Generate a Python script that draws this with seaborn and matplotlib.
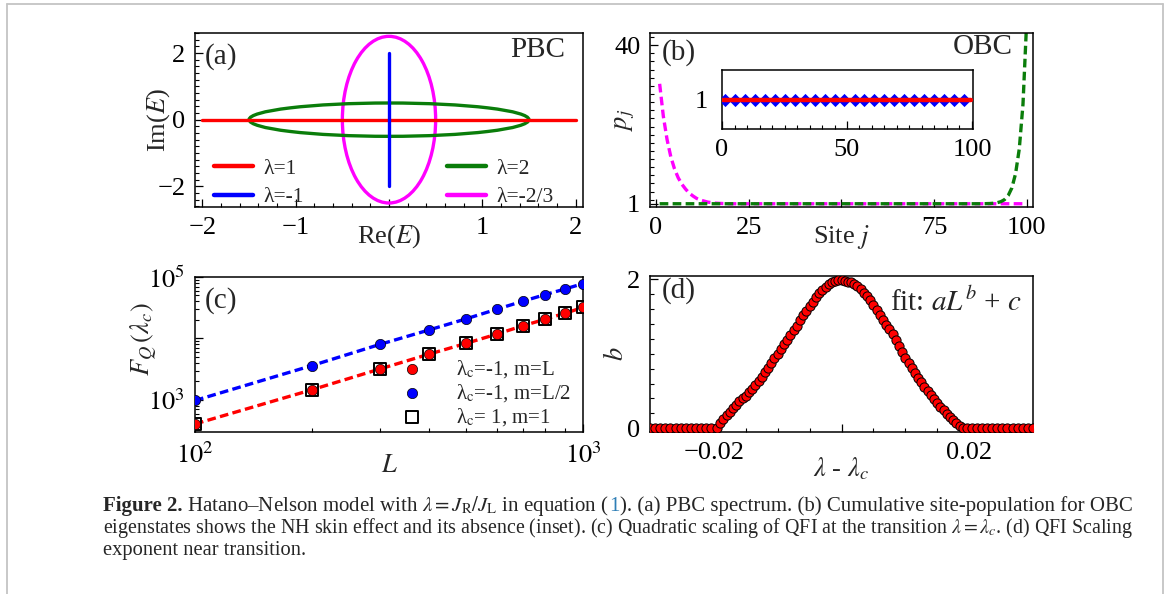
import matplotlib
matplotlib.use("Agg")
import matplotlib.pyplot as plt
import seaborn as sns
import numpy as np
import pandas as pd
from matplotlib.patches import Ellipse
from matplotlib.lines import Line2D
from matplotlib.ticker import MultipleLocator, FixedLocator, FixedFormatter, NullFormatter

# ---------------- data ----------------
# (a) PBC spectrum
spec_labels = ["λ=1", "λ=-1", "λ=2", "λ=-2/3"]
spec_colors = ["#ff0000", "#0000ff", "#0a7d0a", "#ff00ff"]
l1_re = [-2.0, 2.0]
l1_im = [0.0, 0.0]
lm1_re = [0.0, 0.0]
lm1_im = [-2.0, 2.0]
ell_center_re = [0.0, 0.0]      # λ=2, λ=-2/3
ell_center_im = [0.0, 0.0]
ell_semi_re = [1.5, 0.5]
ell_semi_im = [0.5, 2.5]

# (b) cumulative site population (OBC)
site_mag = [1, 2, 3, 4, 5, 6, 7, 8, 9, 10, 11, 12, 14, 16, 18, 20, 100]
pop_mag = [30.5, 22.5, 16.8, 12.6, 9.6, 7.4, 5.8, 4.6, 3.6, 2.9, 2.3, 1.9, 1.4, 1.15, 1.05, 1.0, 1.0]
site_green = [1, 88, 90, 91, 92, 93, 94, 95, 96, 97, 98, 99, 100]
pop_green = [1.0, 1.0, 1.05, 1.12, 1.25, 1.5, 2.0, 3.0, 4.9, 8.4, 14.5, 25.5, 46.0]
inset_site_blue = [1, 5, 9, 13, 17, 21, 25, 29, 33, 37, 41, 45, 49, 53, 57, 61, 65,
                   69, 73, 77, 81, 85, 89, 93, 97]
inset_pop_blue = [1.0] * 25
inset_site_red = [0.5, 99.5]
inset_pop_red = [1.0, 1.0]
inset_site_black = [0, 100]
inset_pop_black = [1.0, 1.0]

# (c) QFI scaling
L_vals = [100, 200, 300, 400, 500, 600, 700, 800, 900, 1000]
fq_mL = [405, 1459, 3190, 5520, 8320, 11780, 16070, 20600, 25800, 31900]
fq_mhalf = [977, 3610, 8020, 13680, 20860, 29930, 40380, 51800, 63950, 78000]
fq_lc1 = [405, 1459, 3190, 5520, 8320, 11780, 16070, 20600, 25800, 31900]
c_labels = ["λ$_{\\rm c}$=-1, m=L", "λ$_{\\rm c}$=-1, m=L/2", "λ$_{\\rm c}$= 1, m=1"]

# (d) scaling exponent b
d_x = [-0.0300, -0.0292, -0.0284, -0.0276, -0.0268, -0.0260, -0.0252, -0.0244, -0.0236,
       -0.0228, -0.0220, -0.0212, -0.0204,
       -0.0195, -0.0190, -0.0185, -0.0180, -0.0175, -0.0170, -0.0165, -0.0160, -0.0155,
       -0.0150, -0.0145, -0.0140, -0.0135, -0.0130, -0.0125, -0.0120, -0.0115, -0.0110,
       -0.0105, -0.0100, -0.0095, -0.0090, -0.0085, -0.0080, -0.0075, -0.0070, -0.0065,
       -0.0060, -0.0055, -0.0050, -0.0045, -0.0040, -0.0035, -0.0030, -0.0025, -0.0020,
       -0.0015, -0.0010, -0.0005, 0.0000, 0.0005, 0.0010, 0.0015, 0.0020, 0.0025, 0.0030,
       0.0035, 0.0040, 0.0045, 0.0050, 0.0055, 0.0060, 0.0065, 0.0070, 0.0075, 0.0080,
       0.0085, 0.0090, 0.0095, 0.0100, 0.0105, 0.0110, 0.0115, 0.0120, 0.0125, 0.0130,
       0.0135, 0.0140, 0.0145, 0.0150, 0.0155, 0.0160, 0.0165, 0.0170, 0.0175, 0.0180,
       0.0185, 0.0190,
       0.0196, 0.0204, 0.0212, 0.0220, 0.0228, 0.0236, 0.0244, 0.0252, 0.0260, 0.0268,
       0.0276, 0.0284, 0.0292, 0.0300]
d_b = [0, 0, 0, 0, 0, 0, 0, 0, 0, 0, 0, 0, 0,
       0.01, 0.07, 0.13, 0.18, 0.22, 0.27, 0.31, 0.36, 0.40,
       0.44, 0.49, 0.53, 0.58, 0.63, 0.69, 0.75, 0.81, 0.88,
       0.94, 1.00, 1.06, 1.13, 1.19, 1.25, 1.32, 1.38, 1.45,
       1.52, 1.58, 1.64, 1.70, 1.76, 1.81, 1.86, 1.90, 1.94,
       1.96, 1.98, 1.99, 1.99, 1.98, 1.97, 1.96, 1.94, 1.91, 1.87,
       1.82, 1.78, 1.72, 1.65, 1.59, 1.52, 1.46, 1.39, 1.33, 1.26,
       1.18, 1.10, 1.02, 0.95, 0.88, 0.81, 0.74, 0.68, 0.62, 0.56,
       0.50, 0.45, 0.39, 0.34, 0.29, 0.24, 0.19, 0.15, 0.11, 0.07,
       0.03, 0.00,
       0, 0, 0, 0, 0, 0, 0, 0, 0, 0, 0, 0, 0, 0]

# ---------------- style ----------------
sns.set_theme(style="white")
plt.rcParams["font.family"] = ["Liberation Serif", "DejaVu Serif"]
plt.rcParams["mathtext.fontset"] = "stix"
plt.rcParams["axes.unicode_minus"] = True

W, H = 1167, 594
fig = plt.figure(figsize=(W / 100, H / 100), dpi=100)
fig.patch.set_facecolor("white")

TS = 19
PS = 21


def px_axes(l, t, r, b):
    return fig.add_axes([l / W, 1 - b / H, (r - l) / W, (b - t) / H])


def style(ax, ts=TS):
    ax.set_facecolor("white")
    for s in ax.spines.values():
        s.set_visible(True)
        s.set_color("black")
        s.set_linewidth(1.1)
    ax.tick_params(which="both", direction="in", top=False, right=False,
                   left=True, bottom=True, colors="black", labelsize=ts)
    ax.tick_params(which="major", length=6, width=0.9, pad=7)
    ax.tick_params(which="minor", length=3, width=0.8)
    ax.grid(False)


DASH = (0, (2.6, 1.3))

# ---------------- (a) ----------------
axa = px_axes(195, 33, 583, 207)
style(axa)
for cr, ci, sr, si, col, z in zip(ell_center_re[::-1], ell_center_im[::-1], ell_semi_re[::-1],
                                  ell_semi_im[::-1], spec_colors[2:][::-1], [2, 2.1]):
    axa.add_patch(Ellipse((cr, ci), 2 * sr, 2 * si, fill=False, edgecolor=col, lw=2.4, zorder=z))
sns.lineplot(x=l1_re, y=l1_im, ax=axa, color=spec_colors[0], lw=2.4, estimator=None, sort=False, zorder=3)
sns.lineplot(x=lm1_re, y=lm1_im, ax=axa, color=spec_colors[1], lw=2.4, estimator=None, sort=False, zorder=3.1)
axa.set_xlim(-2.08, 2.08)
axa.set_ylim(-2.62, 2.6)
axa.xaxis.set_major_locator(FixedLocator([-2, -1, 0, 1, 2]))
axa.xaxis.set_major_formatter(FixedFormatter(["\u22122", "\u22121", "", "1", "2"]))
axa.xaxis.set_minor_locator(MultipleLocator(0.2))
axa.yaxis.set_major_locator(FixedLocator([-2, 0, 2]))
axa.yaxis.set_major_formatter(FixedFormatter(["\u22122", "0", "2"]))
axa.yaxis.set_minor_locator(MultipleLocator(0.2))
axa.set_xlabel("Re($E$)", fontsize=TS)
axa.xaxis.set_label_coords(0.5, -0.09)
axa.set_ylabel("Im($E$)", fontsize=TS)
axa.yaxis.set_label_coords(-0.06, 0.5)
axa.text(0.026, 0.862, "(a)", transform=axa.transAxes, fontsize=PS, va="center", ha="left")
axa.text(0.954, 0.90, "PBC", transform=axa.transAxes, fontsize=PS, va="center", ha="right")
hl = [Line2D([], [], color=c, lw=3.2) for c in spec_colors]
leg1 = axa.legend(hl[:2], spec_labels[:2], loc="center left", bbox_to_anchor=(0.049, 0.138),
                  frameon=False, fontsize=15.5, handlelength=1.8, handletextpad=0.5,
                  labelspacing=0.4, borderpad=0, borderaxespad=0)
axa.add_artist(leg1)
axa.legend(hl[2:], spec_labels[2:], loc="center left", bbox_to_anchor=(0.649, 0.138),
           frameon=False, fontsize=15.5, handlelength=1.8, handletextpad=0.5,
           labelspacing=0.4, borderpad=0, borderaxespad=0)

# ---------------- (b) ----------------
axb = px_axes(650, 33, 1033, 207)
style(axb)
sns.lineplot(x=site_mag, y=pop_mag, ax=axb, color=spec_colors[3], lw=2.4, linestyle=DASH,
             estimator=None, sort=False)
sns.lineplot(x=site_green, y=pop_green, ax=axb, color=spec_colors[2], lw=2.4, linestyle=DASH,
             estimator=None, sort=False)
axb.set_xlim(-1.6, 101.7)
axb.set_ylim(0.2, 43)
axb.xaxis.set_major_locator(FixedLocator([0, 25, 50, 75, 100]))
axb.xaxis.set_major_formatter(FixedFormatter(["0", "25", "", "75", "100"]))
axb.yaxis.set_major_locator(FixedLocator([1, 40]))
axb.yaxis.set_major_formatter(FixedFormatter(["1", "40"]))
axb.yaxis.set_minor_locator(MultipleLocator(2))
axb.set_xlabel("Site $j$", fontsize=TS)
axb.xaxis.set_label_coords(0.5, -0.09)
axb.set_ylabel("$p_j$", fontsize=TS)
axb.yaxis.set_label_coords(-0.035, 0.5)
axb.text(0.031, 0.89, "(b)", transform=axb.transAxes, fontsize=PS, va="center", ha="left")
axb.text(0.948, 0.92, "OBC", transform=axb.transAxes, fontsize=PS, va="center", ha="right")

# inset
axi = px_axes(722, 70, 973, 129)
style(axi)
sns.lineplot(x=inset_site_black, y=inset_pop_black, ax=axi, color="black", lw=0.9,
             estimator=None, sort=False, zorder=2)
sns.scatterplot(x=inset_site_blue, y=inset_pop_blue, ax=axi, color="#0000ff", marker="D",
                s=45, edgecolor="#0000ff", linewidth=0, zorder=3)
sns.lineplot(x=inset_site_red, y=inset_pop_red, ax=axi, color="#ff0000", lw=3.2,
             estimator=None, sort=False, zorder=4)
axi.set_xlim(0, 100.4)
axi.set_ylim(0.5, 1.5)
axi.xaxis.set_major_locator(FixedLocator([0, 50, 100]))
axi.xaxis.set_minor_locator(MultipleLocator(5))
axi.yaxis.set_major_locator(FixedLocator([1]))
axi.tick_params(axis="y", which="major", length=0, pad=10)
axi.set_xlabel("")
axi.set_ylabel("")

# ---------------- (c) ----------------
axc = px_axes(195, 277, 583, 432)
style(axc)
axc.set_xscale("log")
axc.set_yscale("log")
sns.lineplot(x=L_vals, y=fq_mhalf, ax=axc, color="#0000ff", lw=2.4, linestyle=DASH,
             estimator=None, sort=False, zorder=2)
sns.lineplot(x=L_vals, y=fq_mL, ax=axc, color="#ff0000", lw=2.4, linestyle=DASH,
             estimator=None, sort=False, zorder=2)
sns.scatterplot(x=L_vals, y=fq_lc1, ax=axc, marker="s", s=85, color="white",
                edgecolor="black", linewidth=1.4, zorder=3, label=c_labels[2])
sns.scatterplot(x=L_vals, y=fq_mL, ax=axc, marker="o", s=55, color="#ff0000",
                edgecolor="black", linewidth=0.5, zorder=4, label=c_labels[0])
sns.scatterplot(x=L_vals, y=fq_mhalf, ax=axc, marker="o", s=55, color="#0000ff",
                edgecolor="black", linewidth=0.5, zorder=4, label=c_labels[1])
axc.set_xlim(100, 1000)
axc.set_ylim(300, 1e5)
axc.xaxis.set_major_locator(FixedLocator([100, 1000]))
axc.xaxis.set_major_formatter(FixedFormatter(["$10^2$", "$10^3$"]))
axc.xaxis.set_minor_locator(FixedLocator([200, 300, 400, 500, 600, 700, 800, 900]))
axc.xaxis.set_minor_formatter(NullFormatter())
axc.yaxis.set_major_locator(FixedLocator([1e3, 1e4, 1e5]))
axc.yaxis.set_major_formatter(FixedFormatter(["$10^3$", "", "$10^5$"]))
axc.yaxis.set_minor_locator(FixedLocator([400, 500, 600, 700, 800, 900, 2000, 3000, 4000, 5000,
                                          6000, 7000, 8000, 9000, 20000, 30000, 40000, 50000,
                                          60000, 70000, 80000, 90000]))
axc.yaxis.set_minor_formatter(NullFormatter())
axc.set_xlabel("$L$", fontsize=TS)
axc.xaxis.set_label_coords(0.5, -0.15)
axc.set_ylabel("$F_Q\\,(\\lambda_c)$", fontsize=TS)
axc.yaxis.set_label_coords(-0.09, 0.6)
axc.text(0.026, 0.85, "(c)", transform=axc.transAxes, fontsize=PS, va="center", ha="left")
h, l = axc.get_legend_handles_labels()
order = [l.index(c_labels[0]), l.index(c_labels[1]), l.index(c_labels[2])]
axc.legend([h[i] for i in order], [l[i] for i in order], loc="center left",
           bbox_to_anchor=(0.532, 0.25), frameon=False, fontsize=15, handlelength=1.0,
           handletextpad=1.6, labelspacing=0.1, borderpad=0, borderaxespad=0)

# ---------------- (d) ----------------
axd = px_axes(650, 276, 1033, 432)
style(axd)
sns.scatterplot(x=d_x, y=d_b, ax=axd, marker="o", s=44, color="#ff0000",
                edgecolor="black", linewidth=0.7, zorder=3)
axd.set_xlim(-0.030, 0.030)
axd.set_ylim(-0.05, 2.045)
axd.xaxis.set_major_locator(FixedLocator([-0.02, 0, 0.02]))
axd.xaxis.set_major_formatter(FixedFormatter(["\u22120.02", "", "0.02"]))
axd.xaxis.set_minor_locator(MultipleLocator(0.005))
axd.yaxis.set_major_locator(FixedLocator([0, 2]))
axd.yaxis.set_major_formatter(FixedFormatter(["0", "2"]))
axd.yaxis.set_minor_locator(MultipleLocator(0.2))
axd.set_xlabel("$\\lambda$ - $\\lambda_c$", fontsize=TS)
axd.xaxis.set_label_coords(0.5, -0.15)
axd.set_ylabel("$b$", fontsize=TS)
axd.yaxis.set_label_coords(-0.057, 0.5)
axd.text(0.031, 0.91, "(d)", transform=axd.transAxes, fontsize=PS, va="center", ha="left")
axd.text(0.971, 0.833, "fit: $aL^b$ + $c$", transform=axd.transAxes, fontsize=PS,
         va="center", ha="right")

# ---------------- frame ----------------
gray = "#c4c4c4"
fig.add_artist(Line2D([7 / W, 7 / W], [0, 1 - 4 / H], transform=fig.transFigure, color=gray, lw=1.3))
fig.add_artist(Line2D([1163 / W, 1163 / W], [0, 1 - 4 / H], transform=fig.transFigure, color=gray, lw=1.3))
fig.add_artist(Line2D([7 / W, 1163 / W], [1 - 4 / H, 1 - 4 / H], transform=fig.transFigure, color=gray, lw=1.3))

# ---------------- caption ----------------
CS = 15
renderer = fig.canvas.get_renderer()


def write_line(pieces, x_px, y_px, size, target_right=None):
    texts = []
    x = x_px
    for text, kw in pieces:
        t = fig.text(x / W, 1 - y_px / H, text, va="baseline", ha="left", fontsize=size, **kw)
        x = t.get_window_extent(renderer).x1
        texts.append(t)
    if target_right is not None:
        scale = (target_right - x_px) / (x - x_px)
        for t in texts:
            t.remove()
        return write_line(pieces, x_px, y_px, size * scale, None)
    return size


s1 = write_line([("Figure 2.", dict(fontweight="bold")),
                 (" Hatano\u2013Nelson model with $\\lambda = J_{\\rm R}/J_{\\rm L}$ in equation (", {}),
                 ("1", dict(color="#2f7fb6")),
                 ("). (a) PBC spectrum. (b) Cumulative site-population for OBC", {})],
                103, 511, CS, 1137)
s2 = write_line([("eigenstates shows the NH skin effect and its absence (inset). (c) Quadratic scaling "
                  "of QFI at the transition $\\lambda = \\lambda_c$. (d) QFI Scaling", {})],
                103, 533, CS, 1137)
write_line([("exponent near transition.", {})], 103, 555, 0.5 * (s1 + s2))

fig.savefig("out.png", dpi=100, facecolor="white")
